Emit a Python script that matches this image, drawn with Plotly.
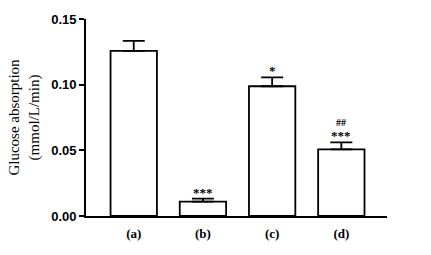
import plotly.graph_objects as go

categories = ["(a)", "(b)", "(c)", "(d)"]
means = [0.1258, 0.011, 0.0988, 0.0508]
errors = [0.0075, 0.0023, 0.0067, 0.0052]
sig_stars = ["", "***", "*", "***"]
sig_hash = ["", "", "", "##"]
y_ticks = [0.0, 0.05, 0.10, 0.15]
y_tick_labels = ["0.00", "0.05", "0.10", "0.15"]

fig = go.Figure()
fig.add_trace(go.Bar(
    x=categories, y=means, width=0.67,
    marker=dict(color="white", line=dict(color="black", width=1.8)),
    error_y=dict(type="data", symmetric=False, array=errors,
                 arrayminus=[0] * len(errors), color="black",
                 thickness=1.8, width=11),
))

annotations = []
for c, m, e, s, h in zip(categories, means, errors, sig_stars, sig_hash):
    if s:
        annotations.append(dict(x=c, y=m + e, text="<b>" + s + "</b>", showarrow=False,
                                yanchor="bottom", yshift=-3,
                                font=dict(family="Liberation Serif", size=13, color="black")))
    if h:
        annotations.append(dict(x=c, y=m + e, text="<b>" + h + "</b>", showarrow=False,
                                yanchor="bottom", yshift=12,
                                font=dict(family="Liberation Serif", size=10, color="black")))

fig.update_layout(
    width=431, height=255,
    margin=dict(l=86, r=44, t=16, b=39),
    paper_bgcolor="white", plot_bgcolor="white",
    showlegend=False,
    annotations=annotations,
    xaxis=dict(range=[-0.69, 3.66], showline=True, linecolor="black", linewidth=1.8,
               ticks="", tickfont=dict(family="Liberation Serif", size=13, color="black"),
               ticklabelstandoff=4,
               tickprefix="<b>", ticksuffix="</b>", showgrid=False, zeroline=False),
    yaxis=dict(range=[0, 0.15], showline=True, linecolor="black", linewidth=1.8,
               ticks="outside", ticklen=5, tickwidth=1.8, tickcolor="black",
               tickvals=y_ticks, ticktext=["<b>" + t + "</b>" for t in y_tick_labels],
               tickfont=dict(family="Liberation Sans", size=13, color="black"),
               showgrid=False, zeroline=False,
               title=dict(text="Glucose absorption<br>(mmol/L/min)",
                          font=dict(family="Liberation Serif", size=15, color="black"),
                          standoff=8)),
)

fig.write_html("out.html", config={"displayModeBar": False},
               post_script="document.body.style.margin='0';")
